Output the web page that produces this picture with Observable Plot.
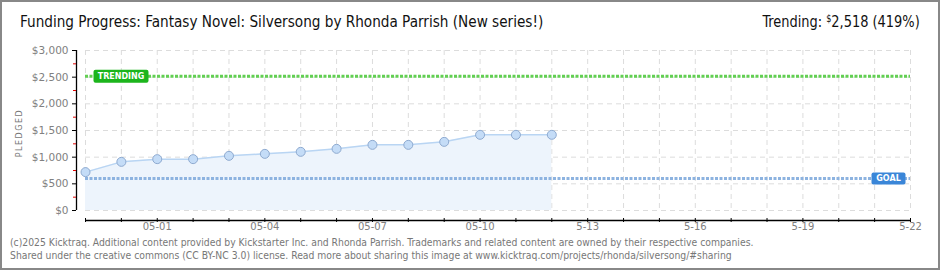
<!DOCTYPE html>
<html><head><meta charset="utf-8">
<script src="https://cdn.jsdelivr.net/npm/d3@7"></script>
<script src="https://cdn.jsdelivr.net/npm/@observablehq/plot@0.6"></script>
<style>
html,body{margin:0;padding:0;background:#fff;}
#wrap{position:relative;width:940px;height:270px;overflow:hidden;background:#fff;}
#border{position:absolute;left:0;top:0;width:940px;height:270px;box-sizing:border-box;border:2px solid #888;pointer-events:none;}
#title{position:absolute;left:20px;top:12px;font-size:16px;font-family:"DejaVu Sans Condensed",sans-serif;color:#111;white-space:nowrap;transform:scaleX(0.946);transform-origin:left center;}
#trend{position:absolute;right:20px;top:12px;font-size:16px;font-family:"DejaVu Sans Condensed",sans-serif;color:#111;white-space:nowrap;transform:scaleX(0.9);transform-origin:right center;}
#trend sup{font-size:10px;vertical-align:5px;}
#chart{position:absolute;left:0;top:0;}
#ylabel{position:absolute;left:19px;top:133px;transform:translate(-50%,-50%) rotate(-90deg);font-size:8px;font-family:"DejaVu Sans",sans-serif;letter-spacing:1.5px;color:#777;white-space:nowrap;}
#footer{position:absolute;left:10px;top:236px;font-size:10.3px;font-family:"DejaVu Sans Condensed","DejaVu Sans",sans-serif;color:#777;line-height:12.5px;white-space:nowrap;}
</style>
</head><body>
<div id="wrap">
  <div id="chart"></div>
  <div id="title">Funding Progress: Fantasy Novel: Silversong by Rhonda Parrish (New series!)</div>
  <div id="trend">Trending: <sup>$</sup>2,518 (419%)</div>
  <div id="ylabel">PLEDGED</div>
  <div id="footer">(c)2025 Kicktraq. Additional content provided by Kickstarter Inc. and Rhonda Parrish. Trademarks and related content are owned by their respective companies.<br>Shared under the creative commons (CC BY-NC 3.0) license. Read more about sharing this image at www.kicktraq.com/projects/rhonda/silversong/#sharing</div>
  <div id="border"></div>
</div>
<script>
// ---- data ----
const dates = ["2025-04-29","2025-04-30","2025-05-01","2025-05-02","2025-05-03","2025-05-04","2025-05-05",
               "2025-05-06","2025-05-07","2025-05-08","2025-05-09","2025-05-10","2025-05-11","2025-05-12"];
const pledged = [720, 912, 963, 963, 1025, 1062, 1100, 1156, 1231, 1231, 1287, 1419, 1419, 1419];
const goal = 600;
const trending = 2518;
const domainStart = "2025-04-29";
const domainEnd = "2025-05-22";
const yTicks = [0, 500, 1000, 1500, 2000, 2500, 3000];
const yMinorTicks = [250, 750, 1250, 1750, 2250, 2750];
const xTickDates = ["2025-05-01","2025-05-04","2025-05-07","2025-05-10","2025-05-13","2025-05-16","2025-05-19","2025-05-22"];
const xTickLabels = ["05-01","05-04","05-07","05-10","5-13","5-16","5-19","5-22"];

// ---- build ----
const parse = s => new Date(s + "T00:00:00Z");
const start = parse(domainStart), end = parse(domainEnd);
const days = d3.utcDay.range(start, d3.utcDay.offset(end, 1));
const data = dates.map((d, i) => ({date: parse(d), pledged: pledged[i]}));
const labelDates = xTickDates.map(parse);
const labelMap = new Map(labelDates.map((d, i) => [+d, xTickLabels[i]]));

function boxSymbol(w, h, r) {
  return {draw(ctx) {
    const x0 = -w / 2, y0 = -h / 2, x1 = w / 2, y1 = h / 2;
    ctx.moveTo(x0 + r, y0);
    ctx.lineTo(x1 - r, y0); ctx.arcTo(x1, y0, x1, y0 + r, r);
    ctx.lineTo(x1, y1 - r); ctx.arcTo(x1, y1, x1 - r, y1, r);
    ctx.lineTo(x0 + r, y1); ctx.arcTo(x0, y1, x0, y1 - r, r);
    ctx.lineTo(x0, y0 + r); ctx.arcTo(x0, y0, x0 + r, y0, r);
    ctx.closePath();
  }};
}

const chart = Plot.plot({
  width: 940, height: 240,
  marginLeft: 85, marginRight: 30, marginTop: 50, marginBottom: 30,
  style: {background: "transparent", fontFamily: "DejaVu Sans", fontSize: "10px", overflow: "visible"},
  x: {type: "utc", domain: [start, end], axis: null},
  y: {domain: [0, 3000], axis: null},
  marks: [
    Plot.gridX(days, {stroke: "#dcdcdc", strokeOpacity: 1, strokeDasharray: "5,4"}),
    Plot.gridY(yTicks, {stroke: "#dcdcdc", strokeOpacity: 1, strokeDasharray: "5,4"}),
    Plot.areaY(data, {x: "date", y: "pledged", fill: "#edf4fc"}),
    Plot.lineY(data, {x: "date", y: "pledged", stroke: "#b9d5f3", strokeWidth: 1.5}),
    Plot.ruleY([trending], {stroke: "#62cf52", strokeWidth: 3, strokeDasharray: "3,1.5"}),
    Plot.ruleY([goal], {stroke: "#8db3e0", strokeWidth: 3, strokeDasharray: "3,1.5"}),
    Plot.dot(data, {x: "date", y: "pledged", r: 4.5, fill: "#c4dcf7", stroke: "#8eaad0", strokeWidth: 1}),
    // labels on reference lines
    Plot.dot([{y: trending}], {y: "y", frameAnchor: "left", dx: 35.5, symbol: boxSymbol(55, 13, 2), fill: "#1cb51c", r: 3}),
    Plot.text([{y: trending, t: "TRENDING"}], {y: "y", text: "t", frameAnchor: "left", textAnchor: "middle", dx: 35.5, fill: "#fff", fontSize: 8, fontWeight: "bold", fontFamily: "DejaVu Sans"}),
    Plot.dot([{y: goal}], {y: "y", frameAnchor: "right", dx: -22, symbol: boxSymbol(34, 12, 2), fill: "#3a86d8", r: 3}),
    Plot.text([{y: goal, t: "GOAL"}], {y: "y", text: "t", frameAnchor: "right", textAnchor: "middle", dx: -22, fill: "#fff", fontSize: 8, fontWeight: "bold", fontFamily: "DejaVu Sans"}),
    // axes
    Plot.ruleX([start], {y1: 0, y2: 3000, dx: -9, stroke: "#000", strokeWidth: 1.3}),
    Plot.ruleY([0], {x1: start, x2: end, dy: 10, stroke: "#000", strokeWidth: 1.3}),
    Plot.axisY(yMinorTicks, {tickSize: 3, dx: -9, stroke: "#e00000", fill: "none", label: null}),
    Plot.axisY(yTicks, {tickSize: 4, tickPadding: 4, dx: -9, stroke: "#000", fill: "#808080", label: null,
                        tickFormat: d => "$" + d3.format(",")(d), fontSize: 10.5}),
    Plot.axisX(days, {tickSize: 4, dy: 8, stroke: "#000", fill: "none", label: null}),
    Plot.axisX(labelDates, {tickSize: 0, dy: 8, tickPadding: 4, fill: "#808080", label: null,
                            tickFormat: d => labelMap.get(+d)})
  ]
});
document.getElementById("chart").appendChild(chart);
</script>
</body></html>
